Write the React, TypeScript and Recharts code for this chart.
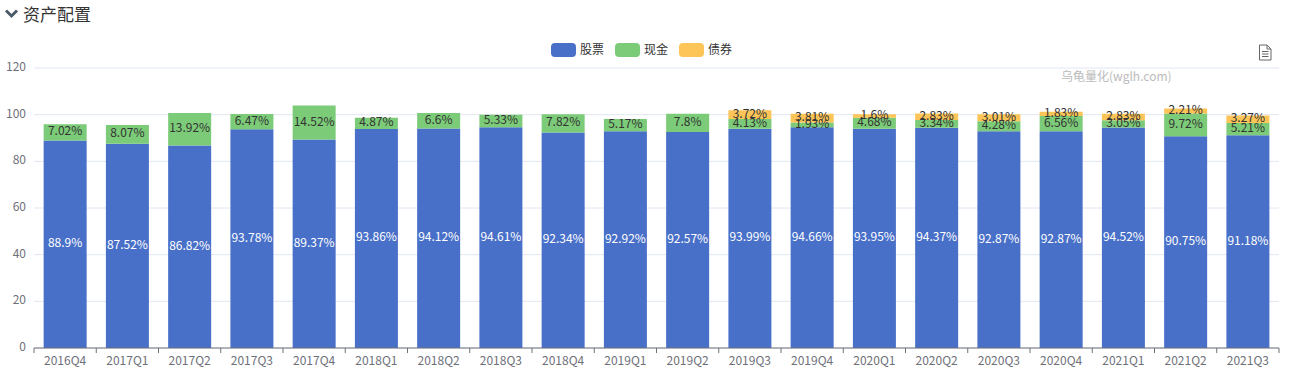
import React from "react";
import { BarChart, Bar, XAxis, YAxis, CartesianGrid, LabelList, Legend } from "recharts";

const categories = ["2016Q4","2017Q1","2017Q2","2017Q3","2017Q4","2018Q1","2018Q2","2018Q3","2018Q4","2019Q1","2019Q2","2019Q3","2019Q4","2020Q1","2020Q2","2020Q3","2020Q4","2021Q1","2021Q2","2021Q3"];
const stocks = [88.9,87.52,86.82,93.78,89.37,93.86,94.12,94.61,92.34,92.92,92.57,93.99,94.66,93.95,94.37,92.87,92.87,94.52,90.75,91.18];
const cash = [7.02,8.07,13.92,6.47,14.52,4.87,6.6,5.33,7.82,5.17,7.8,4.13,1.93,4.68,3.34,4.28,6.56,3.05,9.72,5.21];
const bonds = [null,null,null,null,null,null,null,null,null,null,null,3.72,3.81,1.6,2.83,3.01,1.83,2.83,2.21,3.27];
const yTicks = [0,20,40,60,80,100,120];
const seriesNames = ["股票","现金","债券"];
const seriesColors = ["#4870c8","#7ccb78","#fdc457"];

const data = categories.map((c,i)=>({c,stocks:stocks[i],cash:cash[i],bonds:bonds[i]}));
const FONT = "'Noto Sans CJK SC','Noto Sans',sans-serif";
const W = 1298, H = 376, LEFT = 34, RIGHT = 1279, TOP = 68, BOTTOM = 348;
const BAND = (RIGHT-LEFT)/categories.length;
const AXIS = "#6e7079";

const XTick = (p:any) => {
  const {x,payload,index} = p;
  return <g>
    <line x1={x-BAND/2} x2={x-BAND/2} y1={BOTTOM} y2={BOTTOM+5} stroke={AXIS}/>
    {index===categories.length-1 && <line x1={x+BAND/2} x2={x+BAND/2} y1={BOTTOM} y2={BOTTOM+5} stroke={AXIS}/>}
    <text x={x} y={BOTTOM+17} textAnchor="middle" fontSize={12} fill={AXIS} fontFamily={FONT}>{payload.value}</text>
  </g>;
};

const YTick = (p:any) => {
  const {y,payload} = p;
  return <text x={LEFT-8} y={y+3} textAnchor="end" fontSize={12} fill={AXIS} fontFamily={FONT}>{payload.value}</text>;
};

const SegLabel = (color:string) => (p:any) => {
  const {x,y,width,height,value} = p;
  if (value==null) return null;
  return <text x={x+width/2} y={y+height/2+3} textAnchor="middle" fontSize={12} fill={color} fontFamily={FONT}>{`${value}%`}</text>;
};

const LegendBox = () => (
  <div style={{position:"absolute",left:551,top:42,width:220,display:"flex",fontFamily:FONT,fontSize:12,color:"#333",lineHeight:"16px",whiteSpace:"nowrap"}}>
    {seriesNames.map((n,i)=>(
      <div key={n} style={{display:"flex",alignItems:"center",marginRight:11,flex:"none"}}>
        <span style={{width:25,height:14,borderRadius:4,background:seriesColors[i],marginRight:4,display:"block",flex:"none"}}/>
        <span style={{flex:"none",position:"relative",top:-1}}>{n}</span>
      </div>
    ))}
  </div>
);

export default function App(){
  return <div style={{position:"absolute",left:0,top:0,width:W,height:H,background:"#fff",overflow:"hidden",fontFamily:FONT}}>
    <svg width={14} height={10} style={{position:"absolute",left:5,top:9}}>
      <path d="M1 1.5 L6.5 7 L12 1.5" fill="none" stroke="#4b5a68" strokeWidth={3}/>
    </svg>
    <div style={{position:"absolute",left:23,top:3,fontSize:17,lineHeight:"22px",color:"#333"}}>资产配置</div>
    <BarChart width={W} height={H} data={data} barCategoryGap="15.5%"
      margin={{top:TOP,bottom:0,left:0,right:W-RIGHT}} style={{position:"absolute",left:0,top:0}}>
      <CartesianGrid vertical={false} stroke="#e0e6f1"/>
      <XAxis dataKey="c" interval={0} tickLine={false} height={H-BOTTOM} stroke={AXIS} tick={<XTick/>}/>
      <YAxis width={LEFT} domain={[0,120]} ticks={yTicks} axisLine={false} tickLine={false} tick={<YTick/>}/>
      <Legend content={<LegendBox/>} wrapperStyle={{position:"absolute",left:0,top:0,width:W,height:0}}/>
      <Bar dataKey="stocks" name={seriesNames[0]} stackId="a" fill={seriesColors[0]} isAnimationActive={false}>
        <LabelList dataKey="stocks" content={SegLabel("#fff")}/>
      </Bar>
      <Bar dataKey="cash" name={seriesNames[1]} stackId="a" fill={seriesColors[1]} isAnimationActive={false}>
        <LabelList dataKey="cash" content={SegLabel("#333")}/>
      </Bar>
      <Bar dataKey="bonds" name={seriesNames[2]} stackId="a" fill={seriesColors[2]} isAnimationActive={false}>
        <LabelList dataKey="bonds" content={SegLabel("#333")}/>
      </Bar>
    </BarChart>
    <div style={{position:"absolute",left:1061,top:68,fontSize:12,lineHeight:"16px",color:"#bbb"}}>乌龟量化(wglh.com)</div>
    <svg width={14} height={18} style={{position:"absolute",left:1258,top:44}}>
      <path d="M1.5 1 H9 L13 5 V16 H1.5 Z M9 1 V5 H13 M4 7.5 H10.5 M4 10 H10.5 M4 12.5 H10.5" fill="none" stroke="#666" strokeWidth={1}/>
    </svg>
  </div>;
}
